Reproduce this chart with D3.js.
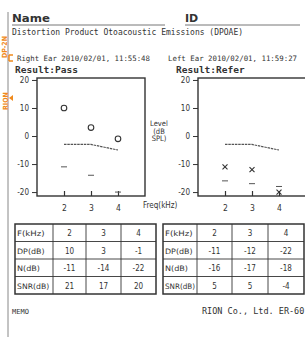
<!DOCTYPE html>
<html>
<head>
<meta charset="utf-8">
<script src="https://cdn.jsdelivr.net/npm/d3@7"></script>
<style>
  body { margin: 0; background: #fff; }
  svg { display: block; }
</style>
</head>
<body>
<div id="page"></div>
<script>
// Data.
const freqs = [2, 3, 4];
const yTicks = [20, 10, 0, -10, -20];
const rightDP = [10, 3, -1];
const rightN = [-11, -14, -22];
const rightSNR = [21, 17, 20];
const leftDP = [-11, -12, -22];
const leftN = [-16, -17, -18];
const leftSNR = [5, 5, -4];
const criteria = [-3, -3, -5];
const rowLabels = ['F(kHz)', 'DP(dB)', 'N(dB)', 'SNR(dB)'];

// SVG constants.
const width = 305;
const height = 337;
const ink = '#333';
const mono = '"DejaVu Sans Mono", monospace';
const narrow = '"DejaVu Sans Condensed", "DejaVu Sans", sans-serif';

const svg = d3.select('#page')
              .append('svg')
              .attr('width', width)
              .attr('height', height);

// Page edge.
svg.append('line')
   .attr('x1', 8).attr('x2', 8)
   .attr('y1', 12).attr('y2', height)
   .attr('stroke', '#888').attr('stroke-width', 1);

// Header.
svg.append('text').attr('x', 12).attr('y', 22).text('Name')
   .attr('font-family', '"DejaVu Sans", sans-serif').attr('font-weight', 'bold')
   .attr('font-size', 11).attr('fill', ink)
   .attr('textLength', 38).attr('lengthAdjust', 'spacingAndGlyphs');
svg.append('line').attr('x1', 12).attr('x2', 165).attr('y1', 25).attr('y2', 25)
   .attr('stroke', '#777').attr('stroke-width', 1);
svg.append('text').attr('x', 185).attr('y', 22).text('ID')
   .attr('font-family', '"DejaVu Sans", sans-serif').attr('font-weight', 'bold')
   .attr('font-size', 11).attr('fill', ink);
svg.append('line').attr('x1', 185).attr('x2', 300).attr('y1', 25).attr('y2', 25)
   .attr('stroke', '#777').attr('stroke-width', 1);

svg.append('text').attr('x', 12).attr('y', 35)
   .text('Distortion Product Otoacoustic Emissions (DPOAE)')
   .attr('font-family', mono).attr('font-size', 8).attr('fill', ink)
   .attr('textLength', 231).attr('lengthAdjust', 'spacingAndGlyphs');

// Orange marks on the edge.
svg.append('text').attr('transform', 'translate(7,58) rotate(-90)')
   .text('DP-2N').attr('font-family', narrow).attr('font-size', 7)
   .attr('font-weight', 'bold').attr('fill', '#f08a1c');
svg.append('text').attr('transform', 'translate(8,110) rotate(-90)')
   .text('RION').attr('font-family', narrow).attr('font-size', 7)
   .attr('font-weight', 'bold').attr('fill', '#f08a1c');
svg.append('path').attr('d', 'M9,98 l4,-3 l0,6 z').attr('fill', '#f08a1c');
svg.append('path').attr('d', 'M9,55 h4 M9,55 v6 M9,61 h4')
   .attr('stroke', '#f08a1c').attr('stroke-width', 1.5).attr('fill', 'none');

svg.append('text').attr('x', 17).attr('y', 61).text('Right Ear 2010/02/01, 11:55:48')
   .attr('font-family', mono).attr('font-size', 7.4).attr('fill', ink)
   .attr('textLength', 133).attr('lengthAdjust', 'spacingAndGlyphs');
svg.append('text').attr('x', 168).attr('y', 61).text('Left Ear  2010/02/01, 11:59:27')
   .attr('font-family', mono).attr('font-size', 7.4).attr('fill', ink);

// Chart panel.
function panel(x0, title, dp, n, marker) {
  const x = d3.scaleLinear().domain([1, 5]).range([x0, x0 + 108]);
  const y = d3.scaleLinear().domain([-21.4, 20.7]).range([196, 78]);
  const clampY = (v) => y(Math.max(v, -20));

  svg.append('text').attr('x', x0 - 22).attr('y', 73).text(title)
     .attr('font-family', mono).attr('font-weight', 'bold')
     .attr('font-size', 9.5).attr('fill', ink);

  const g = svg.append('g');
  g.append('rect')
   .attr('x', x(1)).attr('y', y(20.7))
   .attr('width', x(5) - x(1)).attr('height', y(-21.4) - y(20.7))
   .attr('fill', 'none').attr('stroke', ink).attr('stroke-width', 1.4);

  const yAxis = d3.axisLeft(y).tickValues(yTicks).tickSize(5).tickPadding(3)
                  .tickFormat((d) => String(d));
  g.append('g').attr('transform', `translate(${x(1)},0)`).call(yAxis)
   .call((a) => a.select('.domain').remove())
   .call((a) => a.selectAll('text').attr('font-family', narrow)
                 .attr('font-size', 8).attr('fill', ink))
   .call((a) => a.selectAll('line').attr('stroke', ink));

  const xAxis = d3.axisBottom(x).tickValues(freqs).tickSizeInner(-5).tickPadding(9)
                  .tickFormat((d) => String(d));
  g.append('g').attr('transform', `translate(0,${y(-21.4)})`).call(xAxis)
   .call((a) => a.select('.domain').remove())
   .call((a) => a.selectAll('text').attr('font-family', narrow)
                 .attr('font-size', 8.5).attr('fill', ink))
   .call((a) => a.selectAll('line').attr('stroke', ink).attr('stroke-width', 1.2));

  // Criteria line.
  const line = d3.line().x((d, i) => x(freqs[i])).y((d) => y(d));
  g.append('path').datum(criteria).attr('d', line)
   .attr('fill', 'none').attr('stroke', '#555').attr('stroke-width', 1.2)
   .attr('stroke-dasharray', '2.5,0.8');

  // Noise.
  g.selectAll('.noise').data(n).enter().append('line')
   .attr('x1', (d, i) => x(freqs[i]) - 3).attr('x2', (d, i) => x(freqs[i]) + 3)
   .attr('y1', (d) => clampY(d)).attr('y2', (d) => clampY(d))
   .attr('stroke', '#555').attr('stroke-width', 1);

  // DP markers.
  if (marker === 'circle') {
    g.selectAll('.dp').data(dp).enter().append('circle')
     .attr('cx', (d, i) => x(freqs[i])).attr('cy', (d) => clampY(d))
     .attr('r', 2.8).attr('fill', 'none').attr('stroke', ink).attr('stroke-width', 1.1);
  } else {
    g.selectAll('.dp').data(dp).enter().append('path')
     .attr('d', (d, i) => {
       const cx = x(freqs[i]);
       const cy = clampY(d);
       return `M${cx - 2.5},${cy - 2.5}L${cx + 2.5},${cy + 2.5}M${cx - 2.5},${cy + 2.5}L${cx + 2.5},${cy - 2.5}`;
     })
     .attr('stroke', ink).attr('stroke-width', 1.1);
  }
}

panel(37, 'Result:Pass', rightDP, rightN, 'circle');
panel(198, 'Result:Refer', leftDP, leftN, 'cross');

// Axis titles.
['Level', '(dB', 'SPL)'].forEach((t, i) => {
  svg.append('text').attr('x', 159).attr('y', 126 + i * 7.5).text(t)
     .attr('text-anchor', 'middle').attr('font-family', narrow)
     .attr('font-size', 7.5).attr('fill', ink);
});
svg.append('text').attr('x', 143).attr('y', 208).text('Freq(kHz)')
   .attr('font-family', narrow).attr('font-size', 8).attr('fill', ink);

// Tables.
function table(cols, rows) {
  const top = 224;
  const rh = 17.5;
  const g = svg.append('g');
  const left = cols[0];
  const right = cols[cols.length - 1];
  rows.forEach((row, r) => {
    g.append('text').attr('x', left + 2).attr('y', top + r * rh + 12)
     .text(rowLabels[r]).attr('font-family', narrow).attr('font-size', 7.5)
     .attr('fill', ink).attr('textLength', Math.min(cols[1] - left - 4, rowLabels[r].length * 4.6))
     .attr('lengthAdjust', 'spacingAndGlyphs');
    row.forEach((v, c) => {
      g.append('text').attr('x', (cols[c + 1] + cols[c + 2]) / 2).attr('y', top + r * rh + 12)
       .text(v).attr('text-anchor', 'middle').attr('font-family', narrow)
       .attr('font-size', 8).attr('fill', ink);
    });
  });
  for (let r = 1; r < rows.length; r++) {
    g.append('line').attr('x1', left).attr('x2', right)
     .attr('y1', top + r * rh).attr('y2', top + r * rh)
     .attr('stroke', ink).attr('stroke-width', 0.9);
  }
  cols.slice(1, -1).forEach((cx) => {
    g.append('line').attr('x1', cx).attr('x2', cx)
     .attr('y1', top).attr('y2', top + rows.length * rh)
     .attr('stroke', ink).attr('stroke-width', 0.9);
  });
  g.append('rect').attr('x', left).attr('y', top)
   .attr('width', right - left).attr('height', rows.length * rh)
   .attr('fill', 'none').attr('stroke', ink).attr('stroke-width', 1.5);
}

table([15, 53, 86, 121, 156], [freqs, rightDP, rightN, rightSNR]);
table([163, 197, 232, 268, 304], [freqs, leftDP, leftN, leftSNR]);

// Footer.
svg.append('text').attr('x', 12).attr('y', 314).text('MEMO')
   .attr('font-family', mono).attr('font-size', 7).attr('fill', ink);
svg.append('text').attr('x', 202).attr('y', 314).text('RION Co., Ltd. ER-60')
   .attr('font-family', mono).attr('font-size', 8.5).attr('fill', ink);
</script>
</body>
</html>
